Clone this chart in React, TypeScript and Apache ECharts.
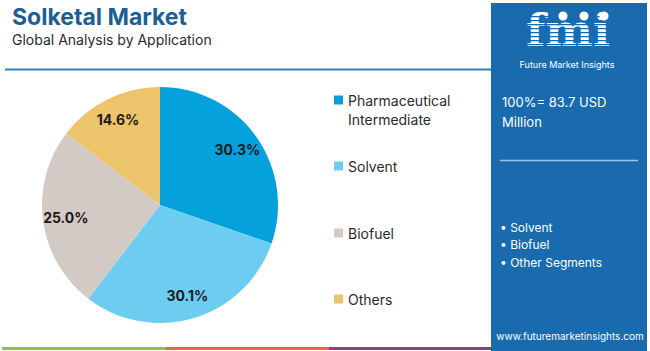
import React, { useEffect, useRef } from "react";
import * as echarts from "echarts";

const categories = ["Pharmaceutical Intermediate", "Solvent", "Biofuel", "Others"];
const legendFirstLines = ["Pharmaceutical", "Solvent", "Biofuel", "Others"];
const legendSecondLine = "Intermediate";
const shares = [30.3, 30.1, 25.0, 14.6];
const sliceColors = ["#05a1dc", "#6dcdf1", "#d4cac5", "#ebc46c"];
const titleText = "Solketal Market";
const subtitleText = "Global Analysis by Application";
const totalLines = ["100%= 83.7 USD", "Million"];
const bullets = ["• Solvent", "• Biofuel", "• Other Segments"];
const siteText = "www.futuremarketinsights.com";
const logoText = "fmi";
const logoSub = "Future Market Insights";

const PANEL = "#1a6aae";
const FONT = "Inter, 'Noto Sans', sans-serif";

export default function App() {
  const ref = useRef<HTMLDivElement>(null);
  useEffect(() => {
    document.body.style.margin = "0";
    const chart = echarts.init(ref.current!, null, { renderer: "svg" });
    const legendCenters = [100, 166, 233, 299];
    const legends = categories.map((c, i) => ({
      show: true,
      orient: "vertical",
      left: 334,
      top: legendCenters[i] - 9.5,
      padding: 0,
      data: [c],
      formatter: () => legendFirstLines[i],
      icon: "rect",
      itemWidth: 9,
      itemHeight: 9,
      selectedMode: false,
      textStyle: { fontFamily: FONT, fontSize: 14, color: "#2b2b2b", lineHeight: 19 },
    }));

    const stripes: any[] = [];
    for (let y = 16; y < 54; y += 4) {
      stripes.push({
        type: "rect",
        shape: { x: 512, y, width: 112, height: 1.2 },
        style: { fill: PANEL },
        z: 12,
      });
    }

    const txt = (text: string, x: number, y: number, font: string, fill: string, align = "left", z = 10) => ({
      type: "text",
      x,
      y,
      z,
      style: {
        text,
        font,
        fill,
        align,
        textAlign: align,
        verticalAlign: "middle",
        textVerticalAlign: "middle",
      },
    });

    chart.setOption({
      animation: false,
      legend: legends,
      graphic: [
        txt(titleText, 12, 17, `bold 23px ${FONT}`, "#1b5f94"),
        txt(subtitleText, 12, 39, `14px ${FONT}`, "#2a2a2a"),
        txt(legendSecondLine, 348, 119, `14px ${FONT}`, "#2b2b2b"),
        {
          type: "line",
          shape: { x1: 5, y1: 69.5, x2: 491, y2: 69.5 },
          style: { stroke: "#2f7fbf", lineWidth: 2 },
        },
        {
          type: "rect",
          shape: { x: 491, y: 3, width: 156, height: 348 },
          style: { fill: PANEL },
          z: 5,
        },
        txt(logoText, 568, 30, `bold 45px 'DejaVu Serif', serif`, "#ffffff", "center", 11),
        ...stripes,
        { type: "circle", shape: { cx: 563, cy: 16, r: 4.5 }, style: { fill: "#ffffff" }, z: 13 },
        { type: "circle", shape: { cx: 584, cy: 16, r: 4.5 }, style: { fill: "#ffffff" }, z: 13 },
        { type: "circle", shape: { cx: 604, cy: 16, r: 4.5 }, style: { fill: "#ffffff" }, z: 13 },
        txt(logoSub, 567, 64.5, `9px ${FONT}`, "#ffffff", "center", 13),
        txt(totalLines[0], 502, 102, `13px ${FONT}`, "#ffffff", "left", 10),
        txt(totalLines[1], 502, 122, `13px ${FONT}`, "#ffffff", "left", 10),
        {
          type: "line",
          shape: { x1: 500, y1: 160.5, x2: 638, y2: 160.5 },
          style: { stroke: "#9cc4e6", lineWidth: 1.5 },
          z: 10,
        },
        ...bullets.map((b, i) => txt(b, 500, 227 + i * 17.6, `12px ${FONT}`, "#ffffff", "left", 10)),
        txt(siteText, 570, 336, `10px ${FONT}`, "#ffffff", "center", 10),
        { type: "rect", shape: { x: 2, y: 347, width: 164, height: 3 }, style: { fill: "#8dc04b" } },
        { type: "rect", shape: { x: 166, y: 347, width: 163, height: 3 }, style: { fill: "#e8693b" } },
        { type: "rect", shape: { x: 329, y: 347, width: 162, height: 3 }, style: { fill: "#8f3b8f" } },
      ],
      series: [
        {
          type: "pie",
          center: [160, 205],
          radius: 118,
          startAngle: 90,
          clockwise: true,
          silent: true,
          label: { show: false },
          labelLine: { show: false },
          emphasis: { disabled: true },
          data: categories.map((c, i) => ({ name: c, value: shares[i], itemStyle: { color: sliceColors[i] } })),
        },
        {
          type: "pie",
          center: [160, 205],
          radius: 184,
          startAngle: 90,
          clockwise: true,
          silent: true,
          itemStyle: { color: "rgba(0,0,0,0)" },
          emphasis: { disabled: true },
          labelLine: { show: false },
          label: {
            show: true,
            position: "inside",
            formatter: (p: any) => Number(p.value).toFixed(1) + "%",
            fontFamily: FONT,
            fontWeight: "bold",
            fontSize: 14,
            color: "#1a1a1a",
          },
          data: categories.map((c, i) => ({ name: c, value: shares[i] })),
        },
      ],
    });
    return () => chart.dispose();
  }, []);
  return (
    <div style={{ position: "fixed", left: 0, top: 0, width: 650, height: 351, background: "#ffffff" }}>
      <div ref={ref} style={{ width: 650, height: 351 }} />
    </div>
  );
}
